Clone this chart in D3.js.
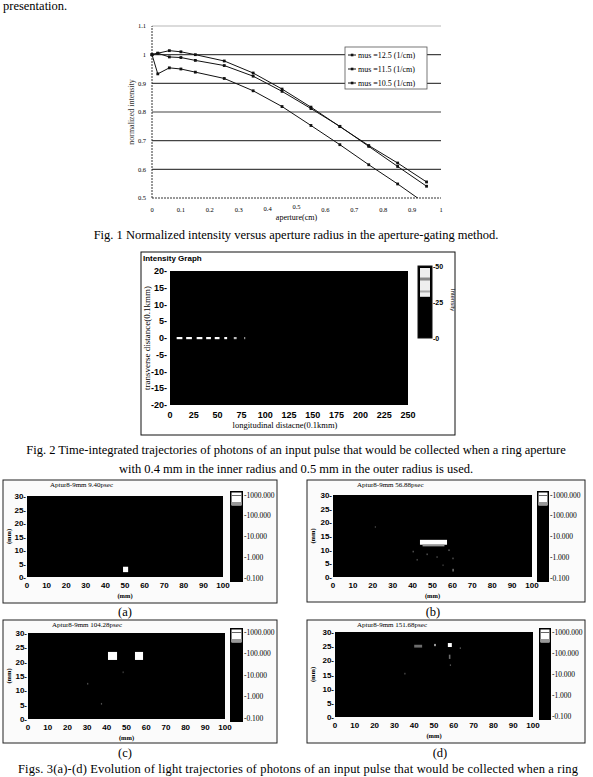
<!DOCTYPE html>
<html><head><meta charset="utf-8">
<script src="https://cdn.jsdelivr.net/npm/d3@7"></script>
<style>body{margin:0;background:#fff}svg{display:block}</style>
</head><body>
<script>
// ---------- Fig. 1 data ----------
const apertures = [0, 0.02, 0.06, 0.1, 0.15, 0.25, 0.35, 0.45, 0.55, 0.65, 0.75, 0.85, 0.95];
const mus125 = [1.0, 1.005, 1.014, 1.010, 1.0, 0.978, 0.936, 0.880, 0.817, 0.749, 0.683, 0.622, 0.556];
const mus115 = [1.0, 1.005, 0.992, 0.990, 0.980, 0.962, 0.925, 0.872, 0.812, 0.750, 0.680, 0.610, 0.541];
const mus105 = [1.0, 0.933, 0.954, 0.950, 0.939, 0.917, 0.874, 0.819, 0.753, 0.686, 0.616, 0.549, 0.478];
const seriesNames = ["mus =12.5 (1/cm)", "mus =11.5 (1/cm)", "mus =10.5 (1/cm)"];
const fig1YTicks = [0.5, 0.6, 0.7, 0.8, 0.9, 1, 1.1];
const fig1XTicks = [0, 0.1, 0.2, 0.3, 0.4, 0.5, 0.6, 0.7, 0.8, 0.9, 1];

// ---------- Fig. 2 data ----------
const fig2XTicks = [0, 25, 50, 75, 100, 125, 150, 175, 200, 225, 250];
const fig2YTicks = [20, 15, 10, 5, 0, -5, -10, -15, -20];
const fig2Segments = [[7, 13], [17, 23], [28, 34], [38, 43], [47, 52], [57, 60], [67, 70], [78, 79]]; // bright path at y=0
const fig2ColorTicks = [50, 25, 0];

// ---------- Fig. 3 data ----------
const fig3XTicks = [0, 10, 20, 30, 40, 50, 60, 70, 80, 90, 100];
const fig3YTicks = [0, 5, 10, 15, 20, 25, 30];
const fig3ColorTicks = ["1000.000", "100.000", "10.000", "1.000", "0.100"];
const fig3Titles = ["Aptur8-9mm  9.40psec", "Aptur8-9mm  56.88psec", "Aptur8-9mm  104.28psec", "Aptur8-9mm  151.68psec"];
const fig3Labels = ["(a)", "(b)", "(c)", "(d)"];
// bright cells [x0, x1, y0, y1, level(0..1)]
const spotsA = [[49, 51.6, 1.8, 3.8, 1]];
const spotsB = [[43.7, 57.3, 11.8, 13.6, 1], [45, 56, 11.2, 11.9, 0.5], [40, 40.6, 9, 9.6, 0.3], [42, 42.6, 6, 6.6, 0.25], [47, 47.6, 8, 8.6, 0.3],
                [52, 52.6, 7, 7.6, 0.25], [58, 58.6, 9.5, 10.1, 0.35], [60, 60.6, 6.5, 7.1, 0.3], [60, 60.7, 2, 3, 0.4], [55, 55.6, 4, 4.6, 0.2], [21, 21.6, 18, 18.6, 0.2]];
const spotsC = [[40.6, 45.2, 20.6, 23.4, 1], [54.3, 58.4, 20.6, 23.4, 1], [30, 30.6, 12, 12.6, 0.25], [37, 37.6, 5, 5.6, 0.25], [48, 48.6, 16, 16.6, 0.2]];
const spotsD = [[57, 59, 24.7, 26.1, 1], [40, 44, 24.5, 25.5, 0.35], [50, 51, 25, 25.8, 0.5], [57.5, 58.3, 20.5, 22, 0.35], [58, 58.6, 18, 18.6, 0.25], [35, 35.6, 15, 15.6, 0.25], [63, 63.6, 24, 24.6, 0.25]];
const fig3Spots = [spotsA, spotsB, spotsC, spotsD];

// ---------- drawing ----------
const W = 593, H = 777;
const svg = d3.select("body").append("svg").attr("width", W).attr("height", H);
const serif = "'Liberation Serif', 'DejaVu Serif', serif";
const narrow = "'Liberation Sans Narrow', 'Liberation Sans', sans-serif";

svg.append("text").attr("x", 3).attr("y", 10).attr("font-family", serif).attr("font-size", 12.5).text("presentation.");

// ===== Fig 1 =====
const x1 = d3.scaleLinear().domain([0, 1]).range([152, 441]);
const y1 = d3.scaleLinear().domain([0.5, 1.1]).range([198, 26]);
const g1 = svg.append("g");
g1.selectAll(".grid").data(fig1YTicks.filter(d => d > 0.5)).join("line")
  .attr("x1", x1(0)).attr("x2", x1(1)).attr("y1", d => y1(d)).attr("y2", d => y1(d))
  .attr("stroke", d => d === 1.1 ? "#999" : "#444").attr("stroke-width", d => d === 1.1 ? 0.7 : 1.1);
g1.append("line").attr("x1", x1(0)).attr("x2", x1(1)).attr("y1", y1(0.5)).attr("y2", y1(0.5))
  .attr("stroke", "#333").attr("stroke-dasharray", "2,1").attr("stroke-width", 1);
g1.append("line").attr("x1", x1(0)).attr("x2", x1(0)).attr("y1", y1(0.5)).attr("y2", y1(1.1))
  .attr("stroke", "#333").attr("stroke-dasharray", "2,1").attr("stroke-width", 1);
g1.selectAll(".yl").data(fig1YTicks).join("text")
  .attr("x", 146).attr("y", d => y1(d) + 2.3).attr("text-anchor", "end")
  .attr("font-family", serif).attr("font-size", 6.5).text(d => d);
g1.selectAll(".xl").data(fig1XTicks).join("text")
  .attr("x", d => x1(d)).attr("y", d => d === 0.5 ? 209 : d === 0.4 ? 211 : 212).attr("text-anchor", "middle")
  .attr("font-family", serif).attr("font-size", 6.5).text(d => d);
g1.append("text").attr("x", x1(0.5)).attr("y", 219.5).attr("text-anchor", "middle")
  .attr("font-family", serif).attr("font-size", 8).text("aperture(cm)");
g1.append("text").attr("transform", `translate(134,${y1(0.8)}) rotate(-90)`).attr("text-anchor", "middle")
  .attr("font-family", serif).attr("font-size", 8).attr("fill", "#333").text("normalized intensity");
svg.append("clipPath").attr("id", "clip1").append("rect").attr("x", x1(0) - 3).attr("y", y1(1.1)).attr("width", x1(1) - x1(0) + 6).attr("height", y1(0.5) - y1(1.1));
const series = [mus125, mus115, mus105];
const line = d3.line().x((d, i) => x1(apertures[i])).y(d => y1(d));
const gs = g1.append("g").attr("clip-path", "url(#clip1)");
series.forEach((s, k) => {
  gs.append("path").attr("d", line(s)).attr("fill", "none").attr("stroke", "#111").attr("stroke-width", 1);
  gs.selectAll(".m" + k).data(s).join("rect")
    .attr("x", (d, i) => x1(apertures[i]) - 1.4).attr("y", d => y1(d) - 1.4)
    .attr("width", 2.8).attr("height", 2.8).attr("fill", "#111");
});
const lg = g1.append("g");
lg.append("rect").attr("x", 345).attr("y", 47).attr("width", 82).attr("height", 42)
  .attr("fill", "#fff").attr("stroke", "#555").attr("stroke-width", 0.8);
seriesNames.forEach((n, k) => {
  const yy = 55 + k * 14;
  lg.append("line").attr("x1", 348).attr("x2", 356).attr("y1", yy).attr("y2", yy).attr("stroke", "#111");
  lg.append("rect").attr("x", 350.8).attr("y", yy - 1.3).attr("width", 2.6).attr("height", 2.6).attr("fill", "#111");
  lg.append("text").attr("x", 358).attr("y", yy + 2.8).attr("font-family", serif).attr("font-size", 8).text(n);
});
svg.append("text").attr("x", 296).attr("y", 239).attr("text-anchor", "middle")
  .attr("font-family", serif).attr("font-size", 12.5)
  .text("Fig. 1 Normalized intensity versus aperture radius in the aperture-gating method.");

// ===== Fig 2 =====
const g2 = svg.append("g");
g2.append("rect").attr("x", 141).attr("y", 252).attr("width", 314).attr("height", 183)
  .attr("fill", "#fff").attr("stroke", "#111").attr("stroke-width", 1);
g2.append("text").attr("x", 143).attr("y", 261).attr("font-family", narrow).attr("font-weight", "bold")
  .attr("font-size", 8).text("Intensity Graph");
const x2 = d3.scaleLinear().domain([0, 250]).range([170, 408]);
const y2 = d3.scaleLinear().domain([-20, 20]).range([405, 271]);
g2.append("rect").attr("x", x2(0)).attr("y", y2(20)).attr("width", x2(250) - x2(0)).attr("height", y2(-20) - y2(20)).attr("fill", "#000");
g2.selectAll(".seg").data(fig2Segments).join("rect")
  .attr("x", d => x2(d[0])).attr("y", y2(0) - 1).attr("width", d => x2(d[1]) - x2(d[0])).attr("height", 2.2)
  .attr("fill", (d, i) => i < 6 ? "#fff" : "#bbb");
g2.selectAll(".y2l").data(fig2YTicks).join("text")
  .attr("x", 167).attr("y", d => y2(d) + 3).attr("text-anchor", "end")
  .attr("font-family", narrow).attr("font-weight", "bold").attr("font-size", 9).text(d => d + "-");
g2.selectAll(".x2l").data(fig2XTicks).join("text")
  .attr("x", d => x2(d)).attr("y", 418).attr("text-anchor", "middle")
  .attr("font-family", narrow).attr("font-weight", "bold").attr("font-size", 9).text(d => d);
g2.append("text").attr("x", 285).attr("y", 428).attr("text-anchor", "middle")
  .attr("font-family", serif).attr("font-size", 8.5).text("longitudinal distacne(0.1kmm)");
g2.append("text").attr("transform", `translate(150,${y2(0)}) rotate(-90)`).attr("text-anchor", "middle")
  .attr("font-family", serif).attr("font-size", 9).text("transverse distance(0.1kmm)");
const c2 = d3.scaleLinear().domain([0, 50]).range([338, 266]);
g2.append("rect").attr("x", 418).attr("y", c2(50)).attr("width", 14).attr("height", c2(0) - c2(50)).attr("fill", "#000").attr("stroke", "#111");
g2.append("rect").attr("x", 420).attr("y", c2(50) + 2).attr("width", 10).attr("height", c2(30) - c2(50)).attr("fill", "#eee");
g2.append("rect").attr("x", 420).attr("y", c2(42)).attr("width", 10).attr("height", 3).attr("fill", "#888");
g2.append("rect").attr("x", 420).attr("y", c2(33)).attr("width", 10).attr("height", 2).attr("fill", "#aaa");
g2.selectAll(".cl").data(fig2ColorTicks).join("text")
  .attr("x", 433).attr("y", d => c2(d) + 3).attr("font-family", narrow).attr("font-weight", "bold")
  .attr("font-size", 7).text(d => "-" + d);
g2.append("text").attr("transform", "translate(451,300) rotate(90)").attr("text-anchor", "middle")
  .attr("font-family", narrow).attr("font-size", 6).text("Intensity");
svg.append("text").attr("x", 296).attr("y", 454).attr("text-anchor", "middle")
  .attr("font-family", serif).attr("font-size", 12.5)
  .text("Fig. 2 Time-integrated trajectories of photons of an input pulse that would be collected when a ring aperture");
svg.append("text").attr("x", 296).attr("y", 473).attr("text-anchor", "middle")
  .attr("font-family", serif).attr("font-size", 12.5)
  .text("with 0.4 mm in the inner radius and 0.5 mm in the outer radius is used.");

// ===== Fig 3 =====
const panels = [
  {fx: 3, fy: 480, fw: 274, fh: 123, px: [27, 223], py: [577, 496], cb: [230, 491, 13, 91], lx: 125, ly: 616, tx: 50},
  {fx: 307, fy: 480, fw: 278, fh: 122, px: [333, 532], py: [577, 495], cb: [537, 491, 12, 91], lx: 433, ly: 616, tx: 357},
  {fx: 3, fy: 620, fw: 274, fh: 123, px: [28, 225], py: [719, 633], cb: [230, 628, 13, 94], lx: 125, ly: 757, tx: 52},
  {fx: 307, fy: 620, fw: 278, fh: 123, px: [335, 533], py: [717, 632], cb: [539, 628, 12, 92], lx: 440, ly: 757, tx: 357}
];
panels.forEach((p, k) => {
  const g = svg.append("g");
  g.append("rect").attr("x", p.fx).attr("y", p.fy).attr("width", p.fw).attr("height", p.fh)
    .attr("fill", "#fbfbfb").attr("stroke", "#222").attr("stroke-width", 1);
  const xs = d3.scaleLinear().domain([0, 100]).range(p.px);
  const ys = d3.scaleLinear().domain([0, 30]).range(p.py);
  g.append("text").attr("x", p.tx).attr("y", p.fy + 7).attr("font-family", serif).attr("font-size", 7).text(fig3Titles[k]);
  g.append("rect").attr("x", xs(0)).attr("y", ys(30)).attr("width", xs(100) - xs(0)).attr("height", ys(0) - ys(30)).attr("fill", "#000");
  g.selectAll(".sp").data(fig3Spots[k]).join("rect")
    .attr("x", d => xs(d[0])).attr("y", d => ys(d[3])).attr("width", d => xs(d[1]) - xs(d[0])).attr("height", d => ys(d[2]) - ys(d[3]))
    .attr("fill", d => d3.interpolateGreys(1 - d[4]));
  g.selectAll(".yt").data(fig3YTicks).join("text")
    .attr("x", xs(0) - 1).attr("y", d => ys(d) + 3).attr("text-anchor", "end")
    .attr("font-family", narrow).attr("font-weight", "bold").attr("font-size", 8).text(d => d + "-");
  g.selectAll(".xt").data(fig3XTicks).join("text")
    .attr("x", d => xs(d)).attr("y", ys(0) + 11).attr("text-anchor", "middle")
    .attr("font-family", narrow).attr("font-weight", "bold").attr("font-size", 8).text(d => d);
  g.append("text").attr("x", xs(50)).attr("y", ys(0) + 21).attr("text-anchor", "middle")
    .attr("font-family", serif).attr("font-weight", "bold").attr("font-size", 6.5).text("(mm)");
  g.append("text").attr("transform", `translate(${p.fx + 8},${ys(15)}) rotate(-90)`).attr("text-anchor", "middle")
    .attr("font-family", serif).attr("font-weight", "bold").attr("font-size", 6.5).text("(mm)");
  const [cx, cy, cw, ch] = p.cb;
  g.append("rect").attr("x", cx).attr("y", cy).attr("width", cw).attr("height", ch).attr("fill", "#000");
  g.append("rect").attr("x", cx + 1.5).attr("y", cy + 1.5).attr("width", cw - 3).attr("height", 13).attr("fill", "#fff");
  g.append("rect").attr("x", cx + 1.5).attr("y", cy + 4).attr("width", cw - 3).attr("height", 1).attr("fill", "#666");
  g.append("rect").attr("x", cx + 1.5).attr("y", cy + 11).attr("width", cw - 3).attr("height", 3).attr("fill", "#999");
  const cs = d3.scalePoint().domain(fig3ColorTicks).range([cy + 4, cy + ch - 4]);
  g.selectAll(".ct").data(fig3ColorTicks).join("text")
    .attr("x", cx + cw + 1).attr("y", d => cs(d) + 2.5).attr("font-family", serif).attr("font-size", 7.5).text(d => "-" + d);
  svg.append("text").attr("x", p.lx).attr("y", p.ly).attr("text-anchor", "middle")
    .attr("font-family", serif).attr("font-size", 12.5).text(fig3Labels[k]);
});
svg.append("text").attr("x", 18).attr("y", 772.5).attr("font-family", serif).attr("font-size", 12.5)
  .attr("textLength", 560)
  .text("Figs. 3(a)-(d) Evolution of light trajectories of photons of an input pulse that would be collected when a ring");
</script>
</body></html>
